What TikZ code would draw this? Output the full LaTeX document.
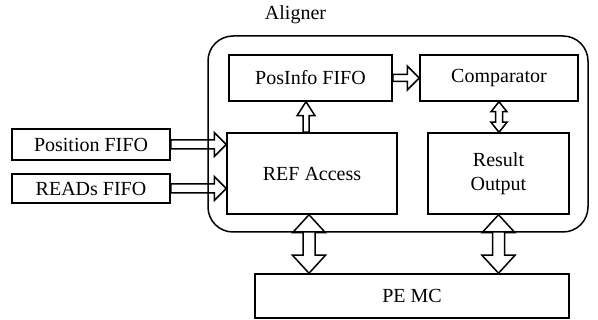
\documentclass[tikz,border=0pt]{standalone}
\usepackage{fontspec}
\setmainfont{Liberation Serif}
\usetikzlibrary{calc}

% Hollow block arrows, all axis-aligned.
% #1 start, #2 end, #3 half shaft width, #4 half head width, #5 head length
\newcommand\fatright[5]{%
  \draw[fatarrow] let \p1=(#1), \p2=(#2) in
    (\x1,{\y1+#3}) -- ({\x2-#5},{\y1+#3}) -- ({\x2-#5},{\y1+#4}) -- (\x2,\y1)
    -- ({\x2-#5},{\y1-#4}) -- ({\x2-#5},{\y1-#3}) -- (\x1,{\y1-#3}) -- cycle;}
\newcommand\fatup[5]{%
  \draw[fatarrow] let \p1=(#1), \p2=(#2) in
    ({\x1-#3},\y1) -- ({\x1-#3},{\y2-#5}) -- ({\x1-#4},{\y2-#5}) -- (\x1,\y2)
    -- ({\x1+#4},{\y2-#5}) -- ({\x1+#3},{\y2-#5}) -- ({\x1+#3},\y1) -- cycle;}
\newcommand\fatboth[5]{%
  \draw[fatarrow] let \p1=(#1), \p2=(#2) in
    (\x1,\y1) -- ({\x1+#4},{\y1-#5}) -- ({\x1+#3},{\y1-#5}) -- ({\x1+#3},{\y2+#5})
    -- ({\x1+#4},{\y2+#5}) -- (\x1,\y2) -- ({\x1-#4},{\y2+#5}) -- ({\x1-#3},{\y2+#5})
    -- ({\x1-#3},{\y1-#5}) -- ({\x1-#4},{\y1-#5}) -- cycle;}

\begin{document}
\begin{tikzpicture}[x=1pt,y=-1pt,
  every node/.style={font=\fontsize{20}{24}\selectfont},
  blk/.style={draw,line width=1.5pt,rectangle,inner sep=0pt,align=center},
  frame/.style={draw,line width=1.5pt,rectangle,rounded corners=25pt,inner sep=0pt},
  fatarrow/.style={line width=1.5pt,line join=miter}]
\useasboundingbox (0,0) rectangle (598,320);

% container
\node[frame,minimum width=380pt,minimum height=196pt] (aligner) at (398,134) {};
\node (title) at (295.5,15) {Aligner};

% blocks
\node[blk,minimum width=163pt,minimum height=46pt] (posinfo) at (310.5,78) {PosInfo FIFO};
\node[blk,minimum width=158pt,minimum height=46pt] (comp) at (499,78) {Comparator};
\node[blk,minimum width=170pt,minimum height=81pt] (ref) at (312,173.5) {REF Access};
\node[blk,minimum width=141pt,minimum height=81pt] (result) at (498.5,173.5) {Result\\Output};
\node[blk,minimum width=158pt,minimum height=31pt] (posfifo) at (91,144.5) {Position FIFO};
\node[blk,minimum width=158pt,minimum height=29pt] (reads) at (91,188.5) {READs FIFO};
\node[blk,minimum width=314pt,minimum height=44pt] (pemc) at (412,296) {PE MC};

% connectors
\fatright{posfifo.east}{ref.west |- posfifo.east}{4.5pt}{12pt}{12pt}
\fatright{reads.east}{ref.west |- reads.east}{4.5pt}{12pt}{12pt}
\fatright{posinfo.east}{comp.west |- posinfo.east}{3.5pt}{12pt}{12pt}
\coordinate (refup) at ([xshift=-6pt]ref.north);
\fatup{refup}{refup |- posinfo.south}{3pt}{9pt}{14pt}
\fatboth{comp.south}{comp.south |- result.north}{3.5pt}{8pt}{10pt}
\coordinate (refdn) at ([xshift=-3pt]ref.south);
\fatboth{refdn}{refdn |- pemc.north}{6pt}{16.5pt}{18pt}
\fatboth{result.south}{result.south |- pemc.north}{6pt}{16.5pt}{18pt}
\end{tikzpicture}
\end{document}
